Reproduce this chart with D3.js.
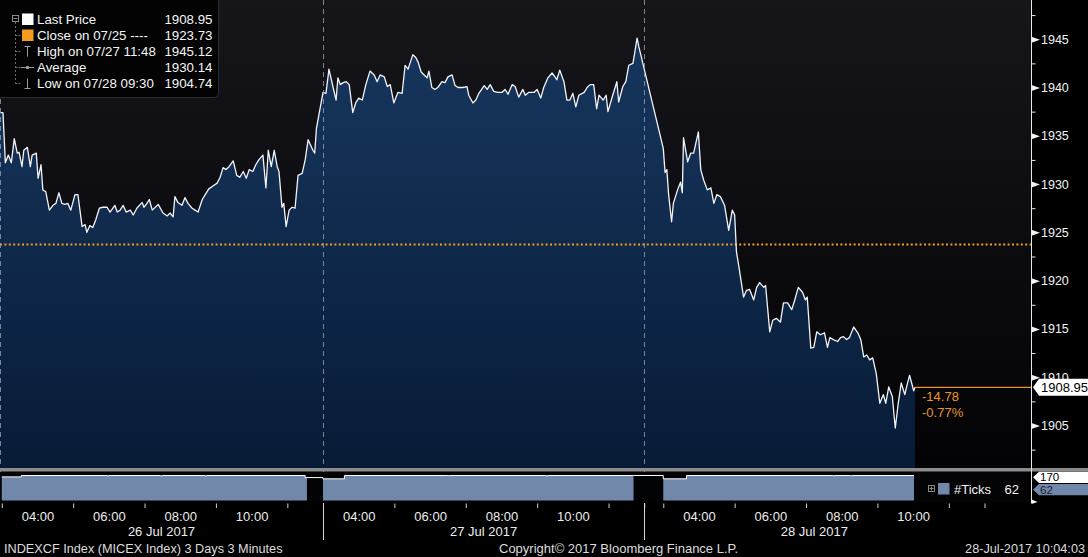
<!DOCTYPE html>
<html><head><meta charset="utf-8">
<script src="https://cdn.jsdelivr.net/npm/d3@7"></script>
<style>
html,body{margin:0;padding:0;background:#000;}
svg{display:block;font-family:"Liberation Sans",Arial,sans-serif;}
</style></head><body>
<svg id="c" width="1088" height="557"></svg>
<script>
// ---------------- DATA ----------------
const sessionDates = ["26 Jul 2017", "27 Jul 2017", "28 Jul 2017"];
const sessionOpen  = ["02:57", "03:00", "02:28"];   // chart window start per day
const sessionClose = ["12:00", "12:00", "12:00"];   // chart window end per day

const day1Times = ["02:57","03:02","03:06","03:11","03:16","03:21","03:26","03:29","03:34","03:37","03:43","03:48","03:51","03:58","04:01","04:06","04:09","04:14","04:20","04:26","04:31","04:36","04:41","04:46","04:51","04:56","05:03","05:08","05:15","05:20","05:23","05:28","05:33","05:38","05:44","05:50","05:57","06:02","06:10","06:14","06:19","06:24","06:29","06:36","06:41","06:47","06:56","06:59","07:04","07:08","07:13","07:18","07:23","07:31","07:38","07:43","07:48","07:51","07:56","08:03","08:08","08:13","08:20","08:25","08:30","08:37","08:42","08:48","08:55","09:02","09:07","09:12","09:17","09:22","09:29","09:35","09:40","09:46","09:51","09:56","10:02","10:07","10:12","10:19","10:24","10:28","10:33","10:38","10:43","10:46","10:51","10:54","10:58","11:03","11:08","11:13","11:18","11:25","11:30","11:35","11:43","11:46","11:49"];
const day1Prices = [1937.4,1937.4,1932.2,1933.0,1932.2,1934.7,1933.2,1933.3,1931.8,1933.5,1933.8,1931.8,1933.0,1933.2,1930.6,1932.0,1929.4,1929.2,1927.3,1927.8,1928.0,1929.1,1928.0,1927.9,1928.0,1927.3,1928.9,1928.9,1925.6,1925.8,1925.0,1925.7,1925.5,1926.3,1927.5,1927.6,1927.6,1927.1,1927.8,1927.1,1927.3,1927.8,1927.1,1927.3,1926.8,1927.5,1928.1,1927.6,1928.0,1928.4,1927.3,1927.6,1927.9,1927.0,1926.7,1927.0,1926.6,1928.7,1928.1,1927.8,1928.6,1928.0,1927.5,1927.3,1927.1,1928.4,1928.9,1929.5,1929.8,1930.1,1930.7,1931.7,1931.5,1931.8,1932.4,1930.9,1930.7,1931.3,1930.6,1931.5,1931.3,1932.0,1932.5,1933.0,1929.6,1933.5,1931.8,1933.5,1931.8,1931.3,1927.6,1928.0,1925.6,1927.3,1927.6,1927.5,1930.9,1931.1,1932.5,1934.6,1933.5,1933.2,1935.8];

const day2Times = ["03:00","03:05","03:10","03:17","03:22","03:25","03:29","03:34","03:39","03:44","03:50","03:55","04:00","04:06","04:12","04:19","04:26","04:31","04:36","04:43","04:48","04:53","04:59","05:06","05:13","05:18","05:23","05:31","05:36","05:40","05:45","05:50","05:55","05:58","06:03","06:08","06:13","06:20","06:25","06:30","06:37","06:42","06:47","06:55","07:02","07:05","07:12","07:17","07:22","07:31","07:36","07:41","07:47","07:54","08:01","08:06","08:11","08:18","08:23","08:29","08:36","08:40","08:46","08:55","09:00","09:06","09:11","09:18","09:25","09:30","09:33","09:38","09:45","09:50","09:55","10:00","10:05","10:10","10:19","10:24","10:29","10:35","10:40","10:44","10:51","10:56","10:59","11:07","11:14","11:17","11:24","11:29","11:34","11:41","11:48","11:51"];
const day2Prices = [1939.5,1939.4,1941.9,1940.0,1938.7,1941.0,1940.3,1940.5,1940.6,1940.3,1937.4,1938.4,1938.9,1938.7,1940.3,1941.7,1941.3,1940.6,1941.3,1941.1,1940.1,1940.3,1938.4,1939.5,1939.4,1942.3,1941.9,1943.4,1943.1,1942.6,1941.6,1941.3,1941.0,1941.7,1940.0,1939.8,1940.0,1940.6,1940.5,1941.1,1941.3,1940.2,1940.0,1940.0,1940.1,1939.2,1938.4,1938.7,1939.4,1940.2,1939.8,1940.3,1939.6,1939.5,1939.5,1939.8,1939.3,1940.3,1940.1,1939.0,1939.8,1939.2,1939.5,1939.5,1939.8,1938.9,1940.0,1941.0,1941.5,1941.1,1940.8,1941.8,1940.6,1938.7,1938.7,1939.4,1938.0,1939.2,1939.5,1940.0,1940.3,1940.3,1937.8,1939.2,1938.7,1939.2,1937.5,1939.2,1940.6,1938.5,1940.1,1940.6,1942.3,1942.5,1945.12,1944.2];

const day3Times = ["03:00","03:03","03:06","03:09","03:14","03:17","03:24","03:29","03:32","03:34","03:41","03:46","03:51","03:59","04:03","04:08","04:14","04:20","04:25","04:30","04:36","04:43","04:50","04:56","05:00","05:03","05:08","05:15","05:20","05:25","05:32","05:37","05:42","05:49","05:52","05:59","06:04","06:10","06:17","06:22","06:29","06:36","06:41","06:47","06:54","06:59","07:02","07:08","07:13","07:18","07:24","07:31","07:36","07:40","07:46","07:53","07:58","08:03","08:08","08:13","08:20","08:27","08:32","08:37","08:42","08:47","08:52","08:58","09:04","09:10","09:14","09:19","09:25","09:30","09:35","09:40","09:46","09:49","09:54","10:01","10:03"];
const day3Prices = [1933.7,1931.2,1931.5,1928.9,1926.1,1928.0,1929.4,1930.2,1929.1,1934.8,1932.3,1933.2,1933.2,1935.4,1931.5,1930.4,1929.4,1929.6,1928.0,1928.9,1928.7,1927.8,1925.2,1927.3,1926.8,1923.0,1921.1,1918.3,1919.0,1919.1,1918.0,1919.3,1919.8,1919.3,1919.5,1914.7,1915.9,1916.1,1915.7,1917.7,1917.7,1917.0,1918.0,1919.3,1918.8,1918.0,1918.3,1913.0,1913.1,1914.7,1914.4,1914.6,1913.1,1914.1,1913.9,1913.7,1914.1,1914.2,1913.9,1914.1,1915.2,1914.6,1913.9,1912.1,1912.3,1911.8,1912.0,1910.4,1907.3,1908.2,1907.3,1909.0,1908.0,1904.74,1907.3,1909.4,1908.2,1909.0,1910.2,1908.6,1908.95];

// #Ticks per 3-minute bar (step changes)
const vol1Times = ["03:00","03:33","05:57","06:00","07:27","07:30","08:42","08:45","11:30","11:33"];
const vol1Ticks = [170,180,178,180,177,180,178,180,165,165];
const vol2Times = ["03:00","03:36","06:30","06:33","09:15","09:18","11:42"];
const vol2Ticks = [156,180,179,180,178,180,180];
const vol3Times = ["03:00","03:39","07:45","07:48","08:15","08:18","10:03","10:04"];
const vol3Ticks = [156,180,178,180,178,180,62,62];

const priceTicks = [1905,1910,1915,1920,1925,1930,1935,1940,1945];
const priceMinorTicks = [1902.5,1907.5,1912.5,1917.5,1922.5,1927.5,1932.5,1937.5,1942.5,1947.5];
const hourLabels = ["04:00","06:00","08:00","10:00"];
const hourTickMarks = ["03:00","05:00","07:00","09:00","11:00","12:00"];
const volAxisLabels = [170, 62];

const legendLabels = ["Last Price","Close on 07/25 ----","High on 07/27 11:48","Average","Low on 07/28 09:30"];
const legendValues = [1908.95,1923.73,1945.12,1930.14,1904.74];
const closePrice = 1923.73, lastPrice = 1908.95, netChange = -14.78, pctChange = -0.77, lastTicks = 62;
const footerLeft = "INDEXCF Index (MICEX Index) 3 Days 3 Minutes";
const footerMid = "Copyright\u00A9 2017 Bloomberg Finance L.P.";
const footerRight = "28-Jul-2017 10:04:03";

// ---------------- LAYOUT ----------------
const W = 1088, H = 557;
const plotRight = 1031.5;
const mainTop = 0, mainBottom = 468;
const volTop = 472, volBottom = 500.5;
const ORANGE = "#f39c1f";
const VOLBLUE = "#7188ab";
const fmt2 = v => d3.format(".2f")(v).replace("\u2212", "-");

const parseH = s => { const [h, m] = s.split(":").map(Number); return h + m / 60; };
const dayOffset = []; const dayStartT = []; const dayEndT = [];
let acc = 0;
sessionOpen.forEach((o, i) => {
  dayStartT.push(acc);
  dayOffset.push(acc - parseH(o));
  acc += parseH(sessionClose[i]) - parseH(o);
  dayEndT.push(acc);
});
const tOf = (d, s) => dayOffset[d] + parseH(s);

const x = d3.scaleLinear().domain([0, 28.9]).range([0, plotRight]);
const y = d3.scaleLinear().domain([1900.6, 1949.06]).range([mainBottom, mainTop]);
const yv = d3.scaleLinear().domain([0, 180]).range([volBottom, 475.5]);

const dayTimes = [day1Times, day2Times, day3Times];
const dayPrices = [day1Prices, day2Prices, day3Prices];
const series = [];
dayTimes.forEach((ts, d) => ts.forEach((s, i) => series.push({ t: tOf(d, s), p: dayPrices[d][i] })));

const volTimesAll = [vol1Times, vol2Times, vol3Times];
const volTicksAll = [vol1Ticks, vol2Ticks, vol3Ticks];
const volDays = volTimesAll.map((ts, d) => ts.map((s, i) => ({ t: tOf(d, s), v: volTicksAll[d][i] })));

const svg = d3.select("#c");
const defs = svg.append("defs");
const bgG = defs.append("linearGradient").attr("id", "bgG").attr("x1", 0).attr("y1", 0).attr("x2", 0).attr("y2", 1);
bgG.append("stop").attr("offset", 0).attr("stop-color", "#16151a");
bgG.append("stop").attr("offset", 1).attr("stop-color", "#030305");
const arG = defs.append("linearGradient").attr("id", "arG").attr("gradientUnits", "userSpaceOnUse")
  .attr("x1", 0).attr("y1", 30).attr("x2", 0).attr("y2", mainBottom);
arG.append("stop").attr("offset", 0).attr("stop-color", "#17375f");
arG.append("stop").attr("offset", 1).attr("stop-color", "#071b36");
defs.append("clipPath").attr("id", "mainClip").append("rect")
  .attr("x", 0).attr("y", mainTop).attr("width", plotRight).attr("height", mainBottom - mainTop);

svg.append("rect").attr("width", W).attr("height", H).attr("fill", "#000");
svg.append("rect").attr("x", 0).attr("y", mainTop).attr("width", plotRight).attr("height", mainBottom - mainTop).attr("fill", "url(#bgG)");

const gMain = svg.append("g").attr("clip-path", "url(#mainClip)");
gMain.append("path").datum(series)
  .attr("d", d3.area().x(d => x(d.t)).y0(mainBottom).y1(d => y(d.p)))
  .attr("fill", "url(#arG)");

// close line (dotted)
gMain.append("line").attr("x1", 0).attr("x2", plotRight)
  .attr("y1", y(closePrice)).attr("y2", y(closePrice))
  .attr("stroke", ORANGE).attr("stroke-width", 2).attr("stroke-dasharray", "2,2.4");

// day separators
const sepTs = [dayStartT[0], dayStartT[1], dayStartT[2]];
svg.append("g").selectAll("line").data(sepTs).join("line")
  .attr("x1", d => Math.round(x(d)) + 0.5).attr("x2", d => Math.round(x(d)) + 0.5)
  .attr("y1", 0).attr("y2", volBottom + 2)
  .attr("stroke", "#8a98ae").attr("stroke-width", 1).attr("stroke-dasharray", "5,4").attr("opacity", 0.85);

gMain.append("path").datum(series)
  .attr("d", d3.line().x(d => x(d.t)).y(d => y(d.p)))
  .attr("fill", "none").attr("stroke", "#f2f4f8").attr("stroke-width", 1.3).attr("stroke-linejoin", "round");

// last price line
const lastT = series[series.length - 1].t;
svg.append("line").attr("x1", x(lastT)).attr("x2", plotRight)
  .attr("y1", y(lastPrice)).attr("y2", y(lastPrice))
  .attr("stroke", "#f0901c").attr("stroke-width", 1.2);

svg.append("text").attr("x", 922).attr("y", y(lastPrice) + 14).attr("fill", "#e8952c").attr("font-size", 13)
  .text(fmt2(netChange));
svg.append("text").attr("x", 922).attr("y", y(lastPrice) + 30).attr("fill", "#e8952c").attr("font-size", 13)
  .text(fmt2(pctChange) + "%");

// gray band between panels
svg.append("rect").attr("x", 0).attr("y", mainBottom).attr("width", W).attr("height", 3.5).attr("fill", "#8c8c8c");

// volume panel
svg.append("rect").attr("x", 0).attr("y", volTop).attr("width", plotRight).attr("height", volBottom - volTop).attr("fill", "#020305");
volDays.forEach(pts => {
  svg.append("path").datum(pts)
    .attr("d", d3.area().x(d => x(d.t)).y0(volBottom).y1(d => yv(d.v)).curve(d3.curveStepAfter))
    .attr("fill", VOLBLUE);
});
svg.append("path").datum(volDays.flat())
  .attr("d", d3.line().x(d => x(d.t)).y(d => yv(d.v)).curve(d3.curveStepAfter))
  .attr("fill", "none").attr("stroke", "#ffffff").attr("stroke-width", 1);

// #Ticks legend box
const tl = svg.append("g");
tl.append("rect").attr("x", 914).attr("y", volTop).attr("width", plotRight - 914).attr("height", 31).attr("fill", "#040406");
tl.append("rect").attr("x", 928.5).attr("y", 485.5).attr("width", 6).attr("height", 6).attr("fill", "none").attr("stroke", "#888");
tl.append("line").attr("x1", 929.5).attr("x2", 933.5).attr("y1", 488.5).attr("y2", 488.5).attr("stroke", "#888");
tl.append("line").attr("x1", 931.5).attr("x2", 931.5).attr("y1", 486.5).attr("y2", 490.5).attr("stroke", "#888");
tl.append("rect").attr("x", 938).attr("y", 483).attr("width", 11.5).attr("height", 11.5).attr("fill", VOLBLUE);
tl.append("text").attr("x", 954).attr("y", 493.5).attr("fill", "#f0f0f0").attr("font-size", 13).text("#Ticks");
tl.append("text").attr("x", 1019).attr("y", 493.5).attr("text-anchor", "end").attr("fill", "#f0f0f0").attr("font-size", 13).text(lastTicks);

// axis line
svg.append("line").attr("x1", plotRight).attr("x2", plotRight).attr("y1", 0).attr("y2", 503)
  .attr("stroke", "#e8e8e8").attr("stroke-width", 1);

// y axis
const yAx = svg.append("g").attr("transform", `translate(${plotRight},0)`)
  .call(d3.axisRight(y).tickValues(priceTicks).tickSize(0).tickPadding(9.5).tickFormat(d3.format("d")));
yAx.select(".domain").remove();
yAx.selectAll("text").attr("fill", "#f2f2f2").attr("font-size", 12.5).attr("font-family", "Liberation Sans, Arial, sans-serif");
yAx.selectAll(".tick").append("path").attr("d", "M0,-3L8.5,0L0,3Z").attr("fill", "#f2f2f2");
const yMin = svg.append("g").attr("transform", `translate(${plotRight},0)`)
  .call(d3.axisRight(y).tickValues(priceMinorTicks).tickSize(4).tickFormat(""));
yMin.select(".domain").remove();
yMin.selectAll("line").attr("stroke", "#e8e8e8");

// last price box (covers the upper part of the 1910 label, as in Bloomberg)
const ly = y(lastPrice);
svg.append("path").attr("d", `M${plotRight + 1.5},${ly}L${plotRight + 7.5},${ly - 8.5}H${W}V${ly + 8.5}H${plotRight + 7.5}Z`).attr("fill", "#fff");
svg.append("text").attr("x", 1041).attr("y", ly + 4.6).attr("fill", "#000").attr("font-size", 13).text(fmt2(lastPrice));

// volume axis labels
volAxisLabels.forEach((v, i) => {
  const cy = i === 0 ? yv(v) + 0.4 : yv(v) - 2.2;
  svg.append("path").attr("d", `M${plotRight + 1.5},${cy}L${plotRight + 7.5},${cy - 5.6}H${W}V${cy + 5.6}H${plotRight + 7.5}Z`)
    .attr("fill", i === 0 ? "#fff" : VOLBLUE);
  svg.append("text").attr("x", 1040).attr("y", cy + 4.1).attr("fill", i === 0 ? "#000" : "#1a2230").attr("font-size", 11.5).text(v);
});
svg.append("path").attr("d", `M${plotRight},${volBottom - 1}L${plotRight + 6},${volBottom + 1.5}L${plotRight},${volBottom + 3.5}Z`).attr("fill", "#fff");

// legend box
const lg = svg.append("g");
lg.append("rect").attr("x", -4).attr("y", -4).attr("width", 222.5).attr("height", 101.5).attr("rx", 4)
  .attr("fill", "#030303").attr("stroke", "#2c2c2c").attr("stroke-width", 1);
const rowY = [19.5, 35.5, 51.5, 67.5, 83.5];
lg.append("line").attr("x1", 15.5).attr("x2", 15.5).attr("y1", 22).attr("y2", rowY[4])
  .attr("stroke", "#6a6a6a").attr("stroke-dasharray", "2,2");
rowY.slice(1).forEach(ry => lg.append("line").attr("x1", 15.5).attr("x2", 20.5).attr("y1", ry).attr("y2", ry)
  .attr("stroke", "#6a6a6a").attr("stroke-dasharray", "2,1"));
lg.append("rect").attr("x", 12.5).attr("y", 15.5).attr("width", 6).attr("height", 6).attr("fill", "#030303").attr("stroke", "#8a8a8a");
lg.append("line").attr("x1", 13.5).attr("x2", 17.5).attr("y1", 18.5).attr("y2", 18.5).attr("stroke", "#8a8a8a");
lg.append("rect").attr("x", 22).attr("y", 13.5).attr("width", 11.5).attr("height", 11.5).attr("fill", "#fff");
lg.append("rect").attr("x", 22).attr("y", 29.5).attr("width", 11.5).attr("height", 11.5).attr("fill", ORANGE);
lg.append("path").attr("d", `M24.5,${rowY[2] - 5}H30.5M27.5,${rowY[2] - 5}V${rowY[2] + 5}`).attr("stroke", "#9a9a9a").attr("fill", "none");
lg.append("path").attr("d", `M21,${rowY[3]}H34`).attr("stroke", "#9a9a9a").attr("fill", "none");
lg.append("circle").attr("cx", 27.5).attr("cy", rowY[3]).attr("r", 1.8).attr("fill", "#9a9a9a");
lg.append("path").attr("d", `M27.5,${rowY[4] - 5}V${rowY[4] + 5}M24.5,${rowY[4] + 5}H30.5`).attr("stroke", "#9a9a9a").attr("fill", "none");
legendLabels.forEach((l, i) => {
  lg.append("text").attr("x", 37).attr("y", rowY[i] + 4.7).attr("fill", "#f4f4f4").attr("font-size", 13.3).text(l);
  lg.append("text").attr("x", 212.5).attr("y", rowY[i] + 4.7).attr("text-anchor", "end").attr("fill", "#f4f4f4").attr("font-size", 13.3)
    .text(fmt2(legendValues[i]));
});

// x axis
const tickTs = [], labelTs = [];
sessionDates.forEach((_, d) => {
  hourTickMarks.forEach(s => tickTs.push(tOf(d, s)));
  hourLabels.forEach(s => labelTs.push({ t: tOf(d, s), s }));
});
const xTicks = svg.append("g").attr("transform", `translate(0,503.5)`)
  .call(d3.axisBottom(x).tickValues(tickTs).tickSize(4.5).tickFormat(""));
xTicks.select(".domain").remove();
xTicks.selectAll("line").attr("stroke", "#d0d0d0");
const labMap = new Map(labelTs.map(o => [o.t, o.s]));
const xLab = svg.append("g").attr("transform", `translate(0,508)`)
  .call(d3.axisBottom(x).tickValues(labelTs.map(o => o.t)).tickSize(0).tickPadding(4).tickFormat(t => labMap.get(t)));
xLab.select(".domain").remove();
xLab.selectAll("text").attr("fill", "#ececec").attr("font-size", 13).attr("font-family", "Liberation Sans, Arial, sans-serif");
svg.append("g").selectAll("line").data([dayStartT[1], dayStartT[2]]).join("line")
  .attr("x1", d => Math.round(x(d)) + 0.5).attr("x2", d => Math.round(x(d)) + 0.5)
  .attr("y1", 503).attr("y2", 540).attr("stroke", "#d8d8d8");
sessionDates.forEach((s, d) => {
  svg.append("text").attr("x", (x(dayStartT[d]) + x(dayEndT[d])) / 2).attr("y", 535.5)
    .attr("text-anchor", "middle").attr("fill", "#ececec").attr("font-size", 13).text(s);
});

// footer
svg.append("text").attr("x", 4).attr("y", 553).attr("fill", "#dcdcdc").attr("font-size", 12.7).text(footerLeft);
svg.append("text").attr("x", 499).attr("y", 553).attr("fill", "#dcdcdc").attr("font-size", 13).text(footerMid);
svg.append("text").attr("x", 1085).attr("y", 553).attr("text-anchor", "end").attr("fill", "#dcdcdc").attr("font-size", 12.7).text(footerRight);
</script>
</body></html>
